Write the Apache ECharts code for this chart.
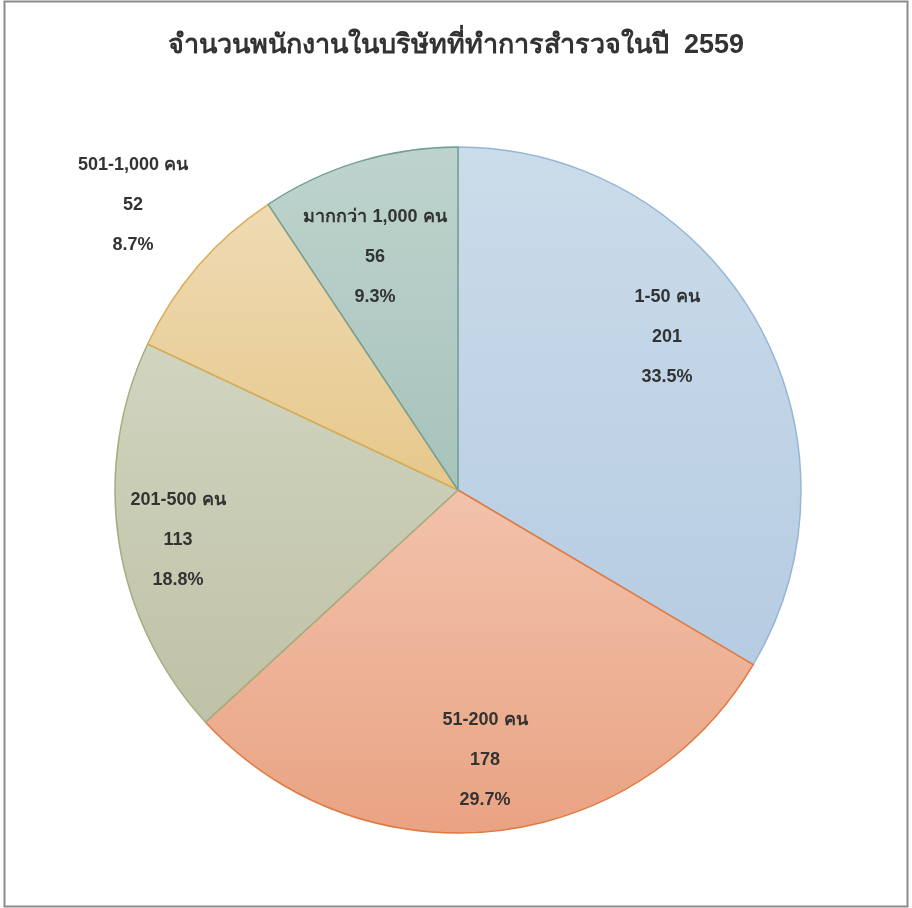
<!DOCTYPE html>
<html>
<head>
<meta charset="utf-8">
<script src="https://cdn.jsdelivr.net/npm/echarts@6/dist/echarts.min.js"></script>
<style>
  html, body { margin: 0; padding: 0; background: #fff; }
  #main { width: 912px; height: 908px; }
</style>
</head>
<body>
<div id="main"></div>
<script>
const categories = ["1-50 คน", "51-200 คน", "201-500 คน", "501-1,000 คน", "มากกว่า 1,000 คน"];
const counts = [201, 178, 113, 52, 56];
const percents = ["33.5%", "29.7%", "18.8%", "8.7%", "9.3%"];

// slice styling: gradient top, gradient bottom, border
const fills = [
  ["#cbdcea", "#b6cce2", "#95b6d6"],
  ["#f2c2ab", "#e9a383", "#e07a40"],
  ["#d1d4bf", "#bfc2a6", "#a2af83"],
  ["#efdab3", "#e6c88b", "#d9ad55"],
  ["#bed3cd", "#a7c3bb", "#74a094"]
];
// label anchor points (px)
const labelPos = [[667, 337], [485, 760], [178, 540], [133, 205], [375, 257]];

const chart = echarts.init(document.getElementById("main"));

const data = categories.map((name, i) => ({
  name,
  value: counts[i],
  pct: percents[i],
  itemStyle: {
    color: new echarts.graphic.LinearGradient(0, 0, 0, 1, [
      { offset: 0, color: fills[i][0] },
      { offset: 1, color: fills[i][1] }
    ]),
    borderColor: fills[i][2],
    borderWidth: 1.5
  }
}));

chart.setOption({
  animation: false,
  title: {
    text: "จำนวนพนักงานในบริษัทที่ทำการสำรวจในปี  2559",
    left: "center",
    top: 27,
    textStyle: {
      fontFamily: "Liberation Sans, Arial, sans-serif",
      fontSize: 27,
      fontWeight: "bold",
      color: "#333"
    }
  },
  graphic: [{
    type: "rect",
    shape: { x: 4.5, y: 1.5, width: 903, height: 905 },
    style: { fill: "none", stroke: "#8c8c8c", lineWidth: 2 },
    silent: true
  }],
  series: [{
    type: "pie",
    center: [458, 490],
    radius: 343,
    startAngle: 90,
    clockwise: true,
    data,
    label: {
      position: "inside",
      formatter: p => p.name + "\n" + p.value + "\n" + p.data.pct,
      fontFamily: "Liberation Sans, Arial, sans-serif",
      fontSize: 18,
      fontWeight: "bold",
      color: "#333",
      lineHeight: 40,
      align: "center"
    },
    labelLine: { show: false },
    labelLayout: p => ({ x: labelPos[p.dataIndex][0], y: labelPos[p.dataIndex][1] }),
    emphasis: { disabled: true }
  }]
});
</script>
</body>
</html>
